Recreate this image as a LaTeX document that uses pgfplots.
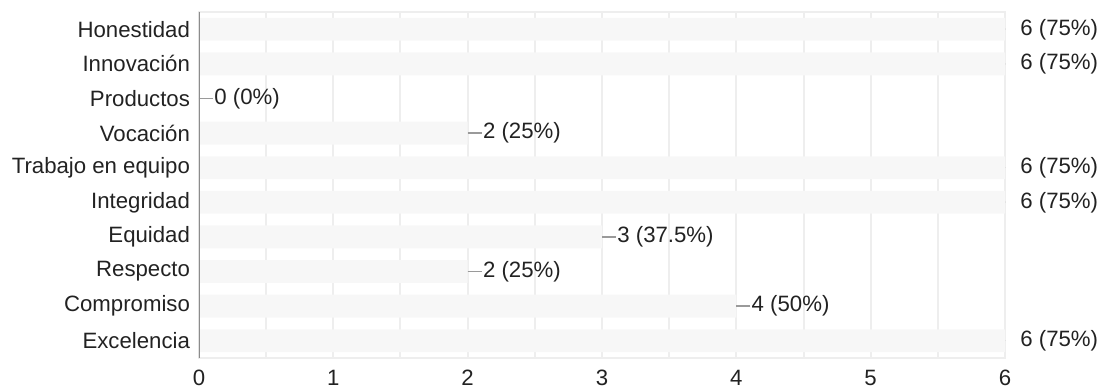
\documentclass[border=0pt]{standalone}
\usepackage{fontspec}
\setmainfont{Liberation Sans}
\usepackage{pgfplots}
\usepackage{pgfplotstable}
\pgfplotsset{compat=1.18}

\definecolor{barfill}{HTML}{F7F7F7}
\definecolor{gridc}{HTML}{EEEEEE}
\definecolor{axisdark}{HTML}{8C8C8C}
\definecolor{txt}{HTML}{222222}
\definecolor{stem}{HTML}{9A9A9A}

% answers per value: row index, count, leader length, label
\pgfplotstableread{
i v e lab
0 6 0.105 {6 (75\%)}
1 6 0.105 {6 (75\%)}
2 0 0.105 {0 (0\%)}
3 2 0.105 {2 (25\%)}
4 6 0.105 {6 (75\%)}
5 6 0.105 {6 (75\%)}
6 3 0.105 {3 (37.5\%)}
7 2 0.105 {2 (25\%)}
8 4 0.105 {4 (50\%)}
9 6 0.105 {6 (75\%)}
}\valores

\begin{document}
\begin{tikzpicture}
\begin{axis}[
  at={(0,0)}, anchor=south west,
  scale only axis, width=403pt, height=173pt,
  xmin=0, xmax=6, ymin=-0.5, ymax=9.5, y dir=reverse,
  xtick={0,...,6}, minor x tick num=1,
  ytick={0,...,9},
  yticklabels={Honestidad, Innovación, Productos, Vocación, Trabajo en equipo,
               Integridad, Equidad, Respecto, Compromiso, Excelencia},
  major tick length=0pt, minor tick length=0pt,
  tick style={draw=none},
  xmajorgrids, xminorgrids,
  grid style={gridc, line width=1pt},
  axis line style={gridc, line width=1pt},
  ticklabel style={font=\fontsize{11.1}{13}\selectfont, text=txt},
  yticklabel style={xshift=-1pt},
  xticklabel style={yshift=-2.5pt},
  /pgf/number format/assume math mode=true,
]
\addplot[
  xbar, bar width=0.66, fill=barfill, draw=none,
  error bars/.cd, x dir=plus, x explicit, error mark=none,
  error bar style={stem, line width=0.8pt},
] table[x=v, y=i, x error=e] {\valores};

\addplot[
  only marks, mark=none,
  point meta=explicit symbolic,
  nodes near coords,
  nodes near coords style={anchor=west, xshift=7.5pt, inner sep=0pt,
    font=\fontsize{11.1}{13}\selectfont, text=txt},
] table[x=v, y=i, meta=lab] {\valores};

% darker left axis line
\draw[axisdark, line width=1pt] (axis cs:0,-0.5) -- (axis cs:0,9.5);
\end{axis}
\pgfresetboundingbox
\useasboundingbox (-99.5pt,-15.5pt) rectangle (457pt,179pt);
\end{tikzpicture}
\end{document}
